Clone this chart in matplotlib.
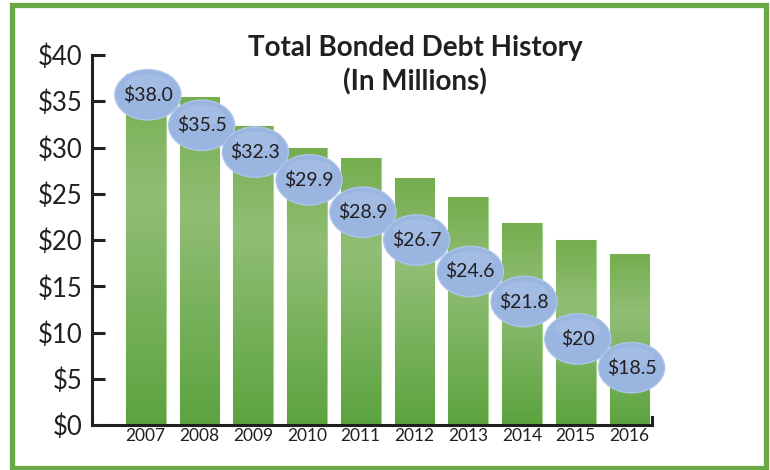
import numpy as np
import matplotlib
matplotlib.use("Agg")
import matplotlib.pyplot as plt
from matplotlib.patches import Ellipse, Rectangle
from matplotlib.colors import LinearSegmentedColormap

# data
years = ["2007", "2008", "2009", "2010", "2011", "2012", "2013", "2014", "2015", "2016"]
debt = [38.0, 35.5, 32.3, 29.9, 28.9, 26.7, 24.6, 21.8, 20.0, 18.5]
labels = ["$38.0", "$35.5", "$32.3", "$29.9", "$28.9", "$26.7", "$24.6", "$21.8", "$20", "$18.5"]
yticks = [0, 5, 10, 15, 20, 25, 30, 35, 40]

# bubble layout (data-space centres, stair-stepped down the chart)
bubble_y = [35.7, 32.4, 29.5, 26.5, 23.0, 20.0, 16.6, 13.35, 9.3, 6.2]

plt.rcParams["font.family"] = ["Lato", "DejaVu Sans"]

fig = plt.figure(figsize=(7.7, 4.7), dpi=100)
fig.patch.set_facecolor("white")

# green frame around the whole graphic
fig.patches.append(Rectangle((12.5 / 770, 2.0 / 470), 753.5 / 770, 463.5 / 470,
                             transform=fig.transFigure, fill=False,
                             ec="#69a945", lw=3.8))

ax = fig.add_axes([92 / 770, 45 / 470, 560 / 770, 370 / 470])
x = np.arange(len(years))
width = 0.74

bar_cmap = LinearSegmentedColormap.from_list(
    "bars", [(0.0, "#5ca33f"), (0.65, "#91be75"), (1.0, "#74ae4e")])
grad = np.linspace(0, 1, 256).reshape(-1, 1)

bars = ax.bar(x, debt, width, color="#6aab48", ec="#a9d08f", lw=0.8, zorder=2)
for b in bars:
    im = ax.imshow(grad, cmap=bar_cmap, origin="lower", aspect="auto",
                   extent=(b.get_x(), b.get_x() + b.get_width(), 0, b.get_height()),
                   zorder=2.5)
    im.set_clip_path(b)

# value bubbles (allowed to spill past the axes edge)
for xi, yi, lab in zip(x, bubble_y, labels):
    ax.add_patch(Ellipse((xi + 0.04, yi), 1.23, 5.45, fc="#9ab5df", ec="#aec5ea",
                         lw=1.0, zorder=4, clip_on=False))
    ax.add_patch(Ellipse((xi + 0.04, yi + 1.1), 0.85, 2.2, fc="#b6cbed", ec="none",
                         alpha=0.35, zorder=4.2, clip_on=False))
    ax.text(xi + 0.04, yi, lab, ha="center", va="center", fontsize=14,
            color="#231f20", zorder=5, clip_on=False)

ax.set_xlim(-1.0, 9.42)
ax.set_ylim(0, 40)
ax.set_yticks(yticks)
ax.set_yticklabels([f"${v}" for v in yticks], fontsize=18.5, color="#231f20")
ax.set_xticks(x)
ax.set_xticklabels(years, fontsize=12.5, color="#231f20")
ax.tick_params(axis="y", direction="in", length=9.5, width=2.2, pad=7,
               color="#231f20")
ax.tick_params(axis="x", length=0, pad=2)

for side in ["top", "right"]:
    ax.spines[side].set_visible(False)
for side in ["left", "bottom"]:
    ax.spines[side].set_linewidth(2.2)
    ax.spines[side].set_color("#231f20")
ax.plot([1, 1], [0, 0.022], transform=ax.transAxes, color="#231f20",
        lw=2.2, clip_on=False, solid_capstyle="projecting")

fig.text(415 / 770, 1 - 48 / 470, "Total Bonded Debt History", ha="center",
         va="center", fontsize=20, fontweight="bold", color="#231f20")
fig.text(415 / 770, 1 - 82 / 470, "(In Millions)", ha="center",
         va="center", fontsize=20, fontweight="bold", color="#231f20")

fig.savefig("out.png", dpi=100)
